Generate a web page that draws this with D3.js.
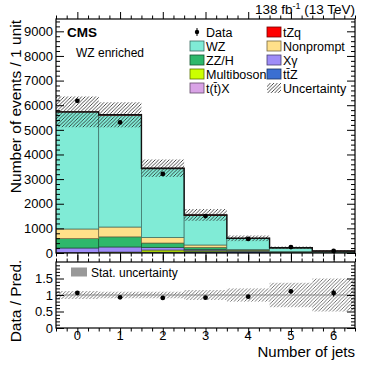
<!DOCTYPE html>
<html><head><meta charset="utf-8">
<script src="https://cdn.jsdelivr.net/npm/d3@7/dist/d3.min.js"></script>
<style>body{margin:0;background:#fff}svg{display:block;font-family:"Liberation Sans",Arial,sans-serif}</style>
</head><body><svg id="c" width="374" height="374"></svg>
<script>
// ---- data ----
const bins = [0, 1, 2, 3, 4, 5, 6];
const processes = ["tX", "ttZ", "Multiboson", "Xgamma", "ZZH", "Nonprompt", "WZ", "tZq"]; // bottom -> top
const tX        = [5, 10, 15, 25, 20, 10, 5];
const ttZ       = [3, 10, 25, 45, 40, 20, 10];
const multibos  = [10, 20, 80, 40, 15, 5, 2];
const xgamma    = [185, 205, 110, 40, 15, 5, 2];
const zzh       = [380, 410, 175, 80, 25, 10, 4];
const nonprompt = [392, 400, 230, 95, 25, 10, 5];
const wz        = [4750, 4540, 2783, 1195, 442, 147, 48];
const tzq       = [5, 15, 25, 25, 15, 8, 4];
const totalUnc  = [625, 510, 355, 240, 115, 50, 25];
const dataVals  = [6180, 5300, 3210, 1500, 570, 240, 85];
const dataErr   = [80, 75, 57, 39, 25, 15, 9];
const ratioVals = [1.06, 0.93, 0.91, 0.92, 0.95, 1.11, 1.06];
const ratioErr  = [0.015, 0.015, 0.02, 0.03, 0.045, 0.07, 0.11];
const ratioUnc  = [0.12, 0.10, 0.10, 0.15, 0.20, 0.37, 0.50];
const yTicks = [0, 1000, 2000, 3000, 4000, 5000, 6000, 7000, 8000, 9000];
const rTicks = [0, 0.5, 1, 1.5];
const rTickLabels = ["0", "0.5", "1", "1.5"];

const colors = {tX:"#d9a3e6", ttZ:"#3b6fd1", Multiboson:"#ccff00", Xgamma:"#9e8cf7",
  ZZH:"#2eb86b", Nonprompt:"#ffe08a", WZ:"#80ebd6", tZq:"#ff0000"};
const legendItems = [
  {key:"Data", label:"Data", col:0, row:0},
  {key:"tZq", label:"tZq", col:1, row:0},
  {key:"WZ", label:"WZ", col:0, row:1},
  {key:"Nonprompt", label:"Nonprompt", col:1, row:1},
  {key:"ZZH", label:"ZZ/H", col:0, row:2},
  {key:"Xgamma", label:"X\u03b3", col:1, row:2},
  {key:"Multiboson", label:"Multiboson", col:0, row:3},
  {key:"ttZ", label:"tt\u0304Z", col:1, row:3},
  {key:"tX", label:"t(t\u0304)X", col:0, row:4},
  {key:"Unc", label:"Uncertainty", col:1, row:4}
];

// ---- layout ----
const L = 56, R = 355, T = 19, B = 253, RT = 262, RB = 328;
const svg = d3.select("#c");
const x = d3.scaleLinear().domain([-0.5, 6.5]).range([L, R]);
const y = d3.scaleLinear().domain([0, 9500]).range([B, T]);
const yr = d3.scaleLinear().domain([0, 2]).range([RB, RT]);

const defs = svg.append("defs");
function hatch(id, col, w) {
  const p = defs.append("pattern").attr("id", id).attr("patternUnits", "userSpaceOnUse")
    .attr("width", 3.5).attr("height", 3.5);
  p.append("path").attr("d", "M-1,1 l2,-2 M0,3.5 l3.5,-3.5 M2.5,4.5 l2,-2")
    .attr("stroke", col).attr("stroke-width", w);
}
hatch("hdark", "#222", 0.8);
hatch("hgray", "#555", 0.8);
defs.append("clipPath").attr("id", "cpTop").append("rect").attr("x", L).attr("y", T).attr("width", R - L).attr("height", B - T);
defs.append("clipPath").attr("id", "cpR").append("rect").attr("x", L).attr("y", RT).attr("width", R - L).attr("height", RB - RT);

// ---- stack ----
const series = {tX, ttZ, Multiboson: multibos, Xgamma: xgamma, ZZH: zzh, Nonprompt: nonprompt, WZ: wz, tZq: tzq};
const rows = bins.map((b, i) => { const o = {bin: b}; processes.forEach(p => o[p] = series[p][i]); return o; });
const stacked = d3.stack().keys(processes)(rows);
const gTop = svg.append("g").attr("clip-path", "url(#cpTop)");
stacked.forEach(s => {
  gTop.selectAll(null).data(s).join("rect")
    .attr("x", d => x(d.data.bin - 0.5)).attr("width", x(1) - x(0))
    .attr("y", d => y(d[1])).attr("height", d => Math.max(0, y(d[0]) - y(d[1])))
    .attr("fill", colors[s.key]).attr("stroke", d3.color(colors[s.key]).darker(2.2)).attr("stroke-width", 0.7);
});
const totals = rows.map(r => processes.reduce((a, p) => a + r[p], 0));
// uncertainty band
gTop.selectAll(null).data(bins).join("rect")
  .attr("x", d => x(d - 0.5)).attr("width", x(1) - x(0))
  .attr("y", (d, i) => y(totals[i] + totalUnc[i]))
  .attr("height", (d, i) => y(totals[i] - totalUnc[i]) - y(totals[i] + totalUnc[i]))
  .attr("fill", "url(#hdark)");
// total line
const stepPts = [];
bins.forEach((b, i) => { stepPts.push([x(b - 0.5), y(totals[i])]); stepPts.push([x(b + 0.5), y(totals[i])]); });
gTop.append("path").attr("d", d3.line()(stepPts)).attr("fill", "none").attr("stroke", "#111").attr("stroke-width", 1.4);
// data
const gD = svg.append("g");
gD.selectAll(null).data(bins).join("line")
  .attr("x1", d => x(d)).attr("x2", d => x(d))
  .attr("y1", (d, i) => y(dataVals[i] - dataErr[i])).attr("y2", (d, i) => y(dataVals[i] + dataErr[i]))
  .attr("stroke", "#000").attr("stroke-width", 1);
gD.selectAll(null).data(bins).join("circle")
  .attr("cx", d => x(d)).attr("cy", (d, i) => y(dataVals[i])).attr("r", 2.4).attr("fill", "#000");

// ---- ratio panel ----
const gR = svg.append("g").attr("clip-path", "url(#cpR)");
gR.selectAll(null).data(bins).join("rect")
  .attr("x", d => x(d - 0.5)).attr("width", x(1) - x(0))
  .attr("y", (d, i) => yr(1 + ratioUnc[i])).attr("height", (d, i) => yr(1 - ratioUnc[i]) - yr(1 + ratioUnc[i]))
  .attr("fill", "url(#hgray)");
gR.append("line").attr("x1", L).attr("x2", R).attr("y1", yr(1)).attr("y2", yr(1)).attr("stroke", "#888").attr("stroke-width", 1);
gR.selectAll(null).data(bins).join("line")
  .attr("x1", d => x(d)).attr("x2", d => x(d))
  .attr("y1", (d, i) => yr(ratioVals[i] - ratioErr[i])).attr("y2", (d, i) => yr(ratioVals[i] + ratioErr[i]))
  .attr("stroke", "#000").attr("stroke-width", 1);
gR.selectAll(null).data(bins).join("circle")
  .attr("cx", d => x(d)).attr("cy", (d, i) => yr(ratioVals[i])).attr("r", 2.4).attr("fill", "#000");

// ---- axes ----
function styleAxis(g) { g.select(".domain").remove(); g.selectAll("line").attr("stroke", "#000"); g.selectAll("text").attr("font-size", 13).attr("fill", "#000"); }
const yMinor = d3.range(0, 9501, 200).filter(v => v % 1000 !== 0);
svg.append("g").attr("transform", `translate(${L},0)`).call(d3.axisLeft(y).tickValues(yTicks).tickSize(-8).tickPadding(3).tickFormat(d3.format("d"))).call(styleAxis);
svg.append("g").attr("transform", `translate(${L},0)`).call(d3.axisLeft(y).tickValues(yMinor).tickSize(-4).tickFormat("")).call(styleAxis);
svg.append("g").attr("transform", `translate(${R},0)`).call(d3.axisRight(y).tickValues(yTicks).tickSize(-8).tickFormat("")).call(styleAxis);
svg.append("g").attr("transform", `translate(${R},0)`).call(d3.axisRight(y).tickValues(yMinor).tickSize(-4).tickFormat("")).call(styleAxis);
const xMinor = d3.range(-0.5, 6.51, 0.25).filter(v => Math.abs(v - Math.round(v)) > 0.01);
[[B, d3.axisTop], [T, d3.axisBottom], [RB, d3.axisTop], [RT, d3.axisBottom]].forEach(([yy, ax]) => {
  svg.append("g").attr("transform", `translate(0,${yy})`).call(ax(x).tickValues(bins).tickSize(-7).tickFormat("")).call(styleAxis);
  svg.append("g").attr("transform", `translate(0,${yy})`).call(ax(x).tickValues(xMinor).tickSize(-3.5).tickFormat("")).call(styleAxis);
});
svg.append("g").selectAll(null).data(bins).join("text")
  .attr("x", d => x(d)).attr("y", 340).attr("text-anchor", "middle").attr("font-size", 13).text(d => d);
const rMinor = d3.range(0, 2.001, 0.1).filter(v => Math.abs(v * 2 - Math.round(v * 2)) > 0.01);
svg.append("g").attr("transform", `translate(${L},0)`).call(d3.axisLeft(yr).tickValues(rTicks).tickSize(-8).tickPadding(3).tickFormat((d, i) => rTickLabels[i])).call(styleAxis);
svg.append("g").attr("transform", `translate(${L},0)`).call(d3.axisLeft(yr).tickValues(rMinor).tickSize(-4).tickFormat("")).call(styleAxis);
svg.append("g").attr("transform", `translate(${R},0)`).call(d3.axisRight(yr).tickValues(rTicks).tickSize(-8).tickFormat("")).call(styleAxis);
svg.append("g").attr("transform", `translate(${R},0)`).call(d3.axisRight(yr).tickValues(rMinor).tickSize(-4).tickFormat("")).call(styleAxis);

// frames
svg.append("rect").attr("x", L).attr("y", T).attr("width", R - L).attr("height", B - T).attr("fill", "none").attr("stroke", "#000").attr("stroke-width", 1.2);
svg.append("rect").attr("x", L).attr("y", RT).attr("width", R - L).attr("height", RB - RT).attr("fill", "none").attr("stroke", "#000").attr("stroke-width", 1.2);

// ---- texts ----
svg.append("text").attr("x", R).attr("y", 14).attr("text-anchor", "end").attr("font-size", 13.5)
  .html('138 fb<tspan dy="-5" font-size="9">-1</tspan><tspan dy="5"> (13 TeV)</tspan>');
svg.append("text").attr("x", 67).attr("y", 37).attr("font-size", 13.5).attr("font-weight", "bold").text("CMS");
svg.append("text").attr("x", 76).attr("y", 57).attr("font-size", 12).text("WZ enriched");
svg.append("text").attr("transform", `translate(21,${T + 1}) rotate(-90)`).attr("text-anchor", "end").attr("font-size", 15.5).text("Number of events / 1 unit");
svg.append("text").attr("transform", `translate(21,301) rotate(-90)`).attr("text-anchor", "middle").attr("font-size", 15.5).text("Data / Pred.");
svg.append("text").attr("x", R).attr("y", 357).attr("text-anchor", "end").attr("font-size", 15).text("Number of jets");

// legend
const lg = svg.append("g");
legendItems.forEach(it => {
  const bx = it.col === 0 ? 190 : 267, cy = 32 + it.row * 14;
  if (it.key === "Data") {
    lg.append("line").attr("x1", bx + 7).attr("x2", bx + 7).attr("y1", cy - 4).attr("y2", cy + 4).attr("stroke", "#000");
    lg.append("circle").attr("cx", bx + 7).attr("cy", cy).attr("r", 2.2).attr("fill", "#000");
  } else if (it.key === "Unc") {
    lg.append("rect").attr("x", bx).attr("y", cy - 5).attr("width", 14).attr("height", 10).attr("fill", "url(#hdark)");
  } else {
    lg.append("rect").attr("x", bx).attr("y", cy - 5).attr("width", 14).attr("height", 10)
      .attr("fill", colors[it.key]).attr("stroke", d3.color(colors[it.key]).darker(2.2)).attr("stroke-width", 0.8);
  }
  lg.append("text").attr("x", bx + 16).attr("y", cy + 4.5).attr("font-size", 12.5).text(it.label);
});
svg.append("rect").attr("x", 71).attr("y", 267.5).attr("width", 16).attr("height", 9).attr("fill", "#999");
svg.append("text").attr("x", 91).attr("y", 276.5).attr("font-size", 12).text("Stat. uncertainty");
</script></body></html>
